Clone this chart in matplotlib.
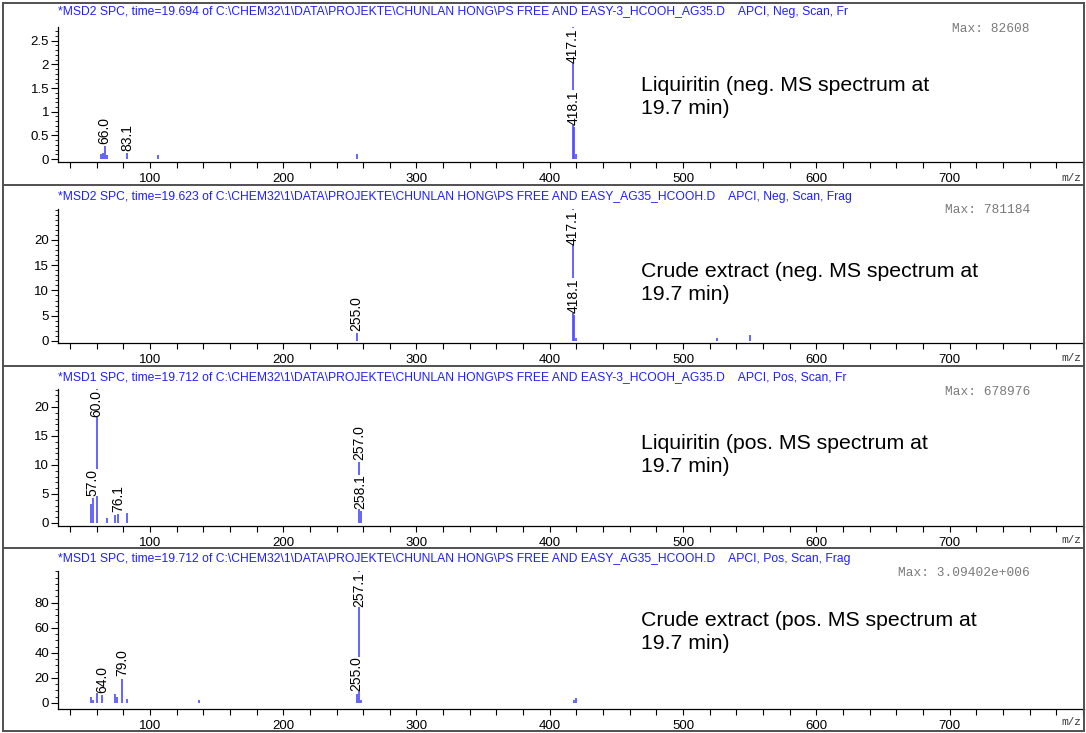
import numpy as np
import matplotlib.pyplot as plt
from matplotlib.ticker import MultipleLocator, FixedLocator, FuncFormatter
from matplotlib.lines import Line2D

plt.rcParams['font.family'] = ['Liberation Sans', 'DejaVu Sans']

W, H = 1086, 733

# header lines of the four spectra
titles = [
    r'*MSD2 SPC, time=19.694 of C:\CHEM32\1\DATA\PROJEKTE\CHUNLAN HONG\PS FREE AND EASY-3_HCOOH_AG35.D    APCI, Neg, Scan, Fr',
    r'*MSD2 SPC, time=19.623 of C:\CHEM32\1\DATA\PROJEKTE\CHUNLAN HONG\PS FREE AND EASY_AG35_HCOOH.D    APCI, Neg, Scan, Frag',
    r'*MSD1 SPC, time=19.712 of C:\CHEM32\1\DATA\PROJEKTE\CHUNLAN HONG\PS FREE AND EASY-3_HCOOH_AG35.D    APCI, Pos, Scan, Fr',
    r'*MSD1 SPC, time=19.712 of C:\CHEM32\1\DATA\PROJEKTE\CHUNLAN HONG\PS FREE AND EASY_AG35_HCOOH.D    APCI, Pos, Scan, Frag',
]
notes = [
    'Liquiritin (neg. MS spectrum at\n19.7 min)',
    'Crude extract (neg. MS spectrum at\n19.7 min)',
    'Liquiritin (pos. MS spectrum at\n19.7 min)',
    'Crude extract (pos. MS spectrum at\n19.7 min)',
]
max_texts = ['Max: 82608', 'Max: 781184', 'Max: 678976', 'Max: 3.09402e+006']

# m/z and abundance (x 10^4 counts)
mz1 = [63.5, 64.7, 66.0, 67.5, 83.1, 106.0, 255.0, 417.1, 418.1, 419.6]
ab1 = [0.11, 0.12, 0.27, 0.08, 0.13, 0.09, 0.11, 8.26, 0.68, 0.10]
lab1 = [66.0, 83.1, 417.1, 418.1]

mz2 = [255.0, 417.1, 418.1, 419.5, 525.5, 550.0]
ab2 = [1.5, 78.1, 5.2, 0.6, 0.6, 1.1]
lab2 = [255.0, 417.1, 418.1]

mz3 = [56.0, 57.0, 60.0, 67.5, 74.0, 76.1, 83.0, 257.0, 258.1]
ab3 = [3.3, 4.3, 67.9, 0.8, 1.3, 1.5, 1.7, 10.5, 2.0]
lab3 = [57.0, 60.0, 76.1, 257.0, 258.1]

mz4 = [55.5, 57.0, 60.0, 64.0, 73.5, 75.0, 79.0, 83.0, 137.0, 255.0, 257.1, 258.2, 418.0, 419.5]
ab4 = [4.7, 2.6, 14.0, 6.5, 7.4, 4.7, 19.5, 2.8, 2.4, 7.5, 309.4, 2.0, 2.5, 4.0]
lab4 = [64.0, 79.0, 255.0, 257.1]

spectra = [(mz1, ab1, lab1), (mz2, ab2, lab2), (mz3, ab3, lab3), (mz4, ab4, lab4)]

ylims = [(-0.063, 2.79), (-0.4, 26.1), (-0.52, 23.1), (-4.8, 105.3)]
ymajor = [[0, 0.5, 1, 1.5, 2, 2.5], [0, 5, 10, 15, 20], [0, 5, 10, 15, 20], [0, 20, 40, 60, 80]]
yminor = [0.1, 1, 1, 5]

# layout in pixels
ax_tb = [(27, 162), (209, 343), (389, 526), (571, 709)]
title_y = [12, 197, 377, 559]
max_y = [29, 210, 392, 573]
note_y = [97, 283, 455, 632]
mz_y = [178, 358, 540, 722]
seps = [2.5, 184.5, 366, 548, 730.5]
left, right = 58, 1083.5

fig = plt.figure(figsize=(W / 100, H / 100), dpi=100)


def fx(x):
    return x / W


def fy(y):
    return 1 - y / H


line_col = '#4a4aff'
for i, (mz, ab, labs) in enumerate(spectra):
    top, bot = ax_tb[i]
    ax = fig.add_axes([fx(left), fy(bot), fx(right) - fx(left), (bot - top) / H])
    ymin, ymax = ylims[i]
    ax.set_xlim(31, 800.5)
    ax.set_ylim(ymin, ymax)
    ax.vlines(mz, 0, ab, color=line_col, lw=1.2)

    for m in labs:
        a = ab[mz.index(m)]
        if a >= ymax:
            ax.annotate(f'{m:.1f}', (m, ymax), xytext=(0, -1), textcoords='offset points',
                        rotation=90, ha='center', va='top', fontsize=10,
                        bbox=dict(fc='white', ec='none', pad=0))
        else:
            ax.annotate(f'{m:.1f}', (m, a), xytext=(0, 1.5), textcoords='offset points',
                        rotation=90, ha='center', va='bottom', fontsize=10,
                        bbox=dict(fc='white', ec='none', pad=0))

    ax.spines['top'].set_visible(False)
    ax.spines['right'].set_visible(False)
    ax.spines['left'].set_linewidth(0.9)
    ax.spines['bottom'].set_linewidth(0.9)
    ax.patch.set_alpha(0)

    ax.xaxis.set_major_locator(MultipleLocator(100))
    ax.xaxis.set_minor_locator(MultipleLocator(20))
    ax.xaxis.set_major_formatter(FuncFormatter(lambda v, p: f'{v:g}' if 50 < v < 790 else ''))
    ax.tick_params(axis='x', which='both', direction='out', length=4, width=0.8,
                   labelsize=9.5, pad=4)

    ax.yaxis.set_major_locator(FixedLocator(ymajor[i]))
    ax.yaxis.set_minor_locator(MultipleLocator(yminor[i]))
    ax.yaxis.set_major_formatter(FuncFormatter(lambda v, p: f'{v:g}'))
    ax.tick_params(axis='y', which='major', direction='out', length=5, width=0.8,
                   labelsize=9.5, pad=1.5)
    ax.tick_params(axis='y', which='minor', direction='out', length=2.5, width=0.6)

    fig.text(fx(58), fy(title_y[i]), titles[i], color='#1f1fff', fontsize=8.7,
             ha='left', va='center')
    fig.text(fx(1030), fy(max_y[i]), max_texts[i], color='#7a7a7a', fontsize=9.3,
             family='Liberation Mono', ha='right', va='center')
    fig.text(fx(641), fy(note_y[i]), notes[i], color='black', fontsize=15.3,
             ha='left', va='center', linespacing=1.3)
    fig.text(fx(1081), fy(mz_y[i]), 'm/z', color='#333333', fontsize=8,
             family='Liberation Mono', ha='right', va='center')

# panel frames
for y in seps:
    fig.add_artist(Line2D([fx(3), fx(1083.5)], [fy(y), fy(y)], color='#505050', lw=1.4))
for x in [3, 1083.5]:
    fig.add_artist(Line2D([fx(x), fx(x)], [fy(seps[0]), fy(seps[-1])], color='#505050', lw=1.4))

fig.savefig('out.png', dpi=100)
